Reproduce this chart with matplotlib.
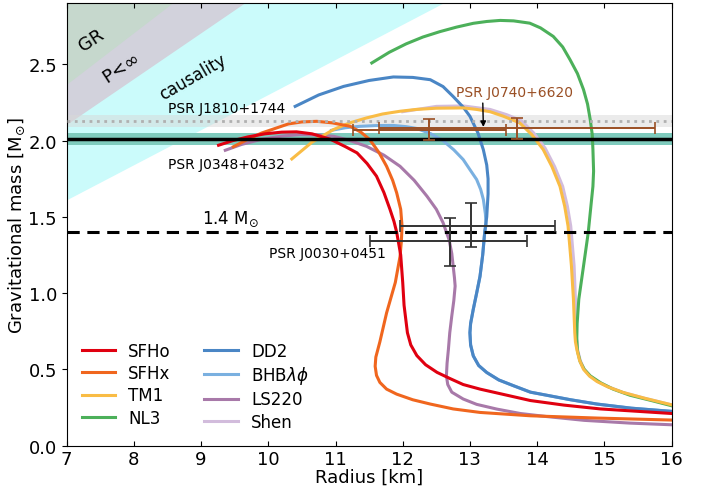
import numpy as np
import matplotlib.pyplot as plt

# mass-radius curves (R in km, M in Msun)
sfho_r = [9.26, 9.47, 9.7, 9.95, 10.2, 10.42, 10.65, 10.92, 11.15, 11.32, 11.47, 11.61, 11.72, 11.81, 11.87, 11.91, 11.97, 12.0, 12.02, 12.07, 12.12, 12.21, 12.34, 12.51, 12.7, 12.90, 13.15, 13.40, 13.90, 14.4, 14.94, 16.0]
sfho_m = [1.97, 2.00, 2.025, 2.045, 2.056, 2.058, 2.045, 2.01, 1.96, 1.92, 1.85, 1.767, 1.66, 1.55, 1.47, 1.40, 1.25, 1.07, 0.92, 0.74, 0.66, 0.59, 0.53, 0.48, 0.44, 0.40, 0.37, 0.345, 0.295, 0.265, 0.24, 0.21]

sfhx_r = [9.48, 9.7, 9.9, 10.1, 10.3, 10.5, 10.72, 10.95, 11.22, 11.38, 11.51, 11.65, 11.76, 11.85, 11.91, 11.97, 11.99, 11.98, 11.96, 11.89, 11.76, 11.66, 11.60, 11.59, 11.61, 11.66, 11.76, 11.91, 12.15, 12.41, 12.75, 13.15, 13.90, 14.9, 16.0]
sfhx_m = [1.96, 2.01, 2.05, 2.08, 2.11, 2.123, 2.127, 2.117, 2.094, 2.055, 2.007, 1.92, 1.832, 1.74, 1.658, 1.55, 1.44, 1.34, 1.24, 1.07, 0.87, 0.68, 0.58, 0.52, 0.46, 0.414, 0.37, 0.337, 0.30, 0.272, 0.24, 0.217, 0.195, 0.18, 0.167]

tm1_r = [10.35, 10.65, 10.97, 11.2, 11.46, 11.7, 11.96, 12.2, 12.5, 12.9, 13.1, 13.3, 13.5, 13.74, 13.92, 14.09, 14.22, 14.34, 14.41, 14.46, 14.51, 14.54, 14.56, 14.57, 14.59, 14.63, 14.69, 14.78, 14.89, 15.05, 15.28, 15.6, 16.0]
tm1_m = [1.88, 1.99, 2.073, 2.115, 2.149, 2.175, 2.193, 2.205, 2.213, 2.215, 2.205, 2.19, 2.16, 2.117, 2.04, 1.942, 1.83, 1.70, 1.57, 1.44, 1.18, 0.96, 0.74, 0.68, 0.632, 0.56, 0.50, 0.455, 0.42, 0.385, 0.348, 0.31, 0.267]

nl3_r = [11.54, 11.8, 12.05, 12.3, 12.55, 12.8, 13.05, 13.25, 13.45, 13.65, 13.89, 14.05, 14.24, 14.38, 14.49, 14.6, 14.69, 14.75, 14.79, 14.82, 14.83, 14.84, 14.83, 14.81, 14.76, 14.69, 14.62, 14.595, 14.59, 14.6, 14.64, 14.70, 14.79, 14.95, 15.13, 15.38, 15.7, 16.0]
nl3_m = [2.51, 2.58, 2.635, 2.68, 2.715, 2.745, 2.77, 2.782, 2.789, 2.786, 2.771, 2.74, 2.684, 2.615, 2.531, 2.44, 2.335, 2.24, 2.138, 2.04, 1.942, 1.80, 1.70, 1.614, 1.396, 1.177, 0.96, 0.80, 0.70, 0.62, 0.55, 0.50, 0.457, 0.41, 0.37, 0.33, 0.295, 0.261]

dd2_r = [10.40, 10.75, 11.12, 11.5, 11.86, 12.15, 12.41, 12.6, 12.75, 12.9, 13.0, 13.12, 13.2, 13.25, 13.27, 13.27, 13.25, 13.22, 13.19, 13.15, 13.1, 13.05, 13.01, 13.0, 13.01, 13.05, 13.13, 13.25, 13.43, 13.65, 13.90, 14.14, 14.5, 14.89, 15.4, 16.0]
dd2_m = [2.225, 2.30, 2.356, 2.395, 2.418, 2.415, 2.40, 2.355, 2.29, 2.22, 2.16, 2.05, 1.94, 1.84, 1.75, 1.65, 1.50, 1.40, 1.25, 1.11, 1.0, 0.894, 0.80, 0.74, 0.66, 0.588, 0.525, 0.479, 0.43, 0.392, 0.35, 0.33, 0.30, 0.272, 0.245, 0.224]

bhb_r = [10.94, 11.15, 11.36, 11.6, 11.86, 12.05, 12.21, 12.42, 12.60, 12.76, 12.90, 13.0, 13.10, 13.16, 13.2, 13.23, 13.24, 13.22, 13.19, 13.15, 13.1, 13.05, 13.01, 13.0, 13.01, 13.05, 13.13, 13.25, 13.43, 13.65, 13.90, 14.14, 14.5, 14.89, 15.4, 16.0]
bhb_m = [2.068, 2.085, 2.094, 2.099, 2.10, 2.092, 2.08, 2.045, 2.0, 1.94, 1.876, 1.81, 1.745, 1.68, 1.614, 1.52, 1.45, 1.40, 1.25, 1.11, 1.0, 0.894, 0.80, 0.74, 0.66, 0.588, 0.525, 0.479, 0.43, 0.392, 0.35, 0.33, 0.30, 0.272, 0.245, 0.224]

ls220_r = [9.36, 9.6, 9.88, 10.2, 10.47, 10.72, 10.97, 11.2, 11.46, 11.72, 11.96, 12.17, 12.36, 12.50, 12.60, 12.69, 12.73, 12.75, 12.77, 12.78, 12.76, 12.73, 12.70, 12.68, 12.66, 12.65, 12.67, 12.73, 12.90, 13.1, 13.40, 13.75, 14.14, 14.7, 15.38, 16.0]
ls220_m = [1.937, 1.975, 2.007, 2.03, 2.04, 2.038, 2.029, 2.003, 1.963, 1.905, 1.832, 1.74, 1.636, 1.55, 1.462, 1.35, 1.26, 1.18, 1.10, 1.046, 0.95, 0.85, 0.74, 0.632, 0.54, 0.457, 0.40, 0.35, 0.305, 0.27, 0.239, 0.21, 0.19, 0.165, 0.147, 0.136]

shen_r = [12.0, 12.5, 12.9, 13.3, 13.55, 13.77, 13.95, 14.12, 14.26, 14.38, 14.45, 14.50, 14.55, 14.57, 14.58, 14.60, 14.64, 14.70, 14.79, 14.90, 15.06, 15.28, 15.6, 16.0]
shen_m = [2.19, 2.225, 2.228, 2.205, 2.17, 2.13, 2.05, 1.95, 1.83, 1.70, 1.57, 1.44, 1.18, 0.96, 0.74, 0.632, 0.56, 0.50, 0.455, 0.42, 0.385, 0.348, 0.31, 0.267]

eos_names = ['SFHo', 'SFHx', 'TM1', 'NL3', 'DD2', 'BHB$\\lambda\\phi$', 'LS220', 'Shen']
eos_colors = ['#e00010', '#f0661e', '#f9bc45', '#4cb05a', '#4a86c5', '#7ab0e0', '#a879a9', '#d2bcdc']
eos_r = [sfho_r, sfhx_r, tm1_r, nl3_r, dd2_r, bhb_r, ls220_r, shen_r]
eos_m = [sfho_m, sfhx_m, tm1_m, nl3_m, dd2_m, bhb_m, ls220_m, shen_m]

# limits: R = k * G M / c^2
gm_sun = 1.4766
k_gr, k_buchdahl, k_causal = 2.0, 9.0 / 4.0, 2.94

# pulsar masses
m_j1810, dm_j1810 = 2.13, 0.04
m_j0348, dm_j0348 = 2.01, 0.04
m_canon = 1.4

# NICER J0030+0451 (Riley, Miller)
j0030_r = [12.71, 13.02]
j0030_rerr = [[1.19, 1.06], [1.14, 1.24]]
j0030_m = [1.34, 1.44]
j0030_merr = [[0.16, 0.14], [0.15, 0.15]]

# J0740+6620 (Riley, Miller)
j0740_r = [12.39, 13.70]
j0740_rerr = [[1.13, 2.05], [1.15, 2.05]]
j0740_m = [2.072, 2.08]
j0740_merr = [[0.066, 0.07], [0.067, 0.07]]

fig = plt.figure(figsize=(7.01, 4.89), dpi=100)
ax = fig.add_axes([0.0951, 0.0869, 0.958 - 0.0951, 0.9908 - 0.0869])

rr = np.array([7.0, 16.0])
ax.fill_between(rr, rr / (k_causal * gm_sun), 3.0, color='#cbfbfb', lw=0, zorder=0)
ax.fill_between(rr, rr / (k_buchdahl * gm_sun), 3.0, color='#d2d2dc', lw=0, zorder=0.1)
ax.fill_between(rr, rr / (k_gr * gm_sun), 3.0, color='#c6d8cd', lw=0, zorder=0.2)

ax.axhspan(m_j1810 - dm_j1810, m_j1810 + dm_j1810, color='#d8d8d8', alpha=0.5, lw=0, zorder=0.5)
ax.axhspan(m_j0348 - dm_j0348, m_j0348 + dm_j0348, color='#7fcbbd', lw=0, zorder=0.5)

# plot in reverse so first entries sit on top
lines = []
for i in range(len(eos_names) - 1, -1, -1):
    ln, = ax.plot(eos_r[i], eos_m[i], color=eos_colors[i], lw=2.2, label=eos_names[i],
                  zorder=2, solid_joinstyle='round')
    lines.insert(0, ln)

ax.axhline(m_j1810, color='#b0b0b0', ls=':', lw=2, zorder=4)
ax.axhline(m_j0348, color='k', lw=2.5, zorder=4)
ax.axhline(m_canon, color='k', ls=(0, (4, 2.5)), lw=2.2, zorder=4)

ax.errorbar(j0030_r, j0030_m, xerr=np.array(j0030_rerr), yerr=np.array(j0030_merr),
            fmt='none', ecolor='#333333', elinewidth=1.4, capsize=4, capthick=1.2, zorder=6)
ax.errorbar(j0740_r, j0740_m, xerr=np.array(j0740_rerr), yerr=np.array(j0740_merr),
            fmt='none', ecolor='#9a4f24', elinewidth=1.4, capsize=4, capthick=1.2, zorder=6)

ax.text(8.51, 2.217, 'PSR J1810+1744', fontsize=10, va='center', zorder=7)
ax.text(8.51, 1.848, 'PSR J0348+0432', fontsize=10, va='center', zorder=7)
ax.text(10.01, 1.261, 'PSR J0030+0451', fontsize=10, va='center', zorder=7)
ax.text(9.02, 1.488, '1.4 M$_{\\odot}$', fontsize=12, va='center', zorder=7)
ax.annotate('PSR J0740+6620', xy=(13.2, 2.09), xytext=(13.66, 2.32), fontsize=10,
            color='#9a4f24', ha='center', va='center', zorder=7,
            arrowprops=dict(arrowstyle='-|>', color='k', lw=1, mutation_scale=8,
                            relpos=(0.23, 0.0), shrinkA=1, shrinkB=0))

ax.text(7.37, 2.662, 'GR', fontsize=13, rotation=33, ha='center', va='center')
ax.text(7.82, 2.477, 'P<$\\infty$', fontsize=13, rotation=33, ha='center', va='center')
ax.text(8.88, 2.42, 'causality', fontsize=12, rotation=30, ha='center', va='center')

ax.set_xlim(7, 16)
ax.set_ylim(0, 2.9)
ax.set_xticks(np.arange(7, 17, 1))
ax.set_yticks(np.arange(0, 2.51, 0.5))
ax.tick_params(axis='x', direction='in', top=True, labelsize=13, pad=3)
ax.tick_params(axis='y', labelsize=13)
ax.set_xlabel('Radius [km]', fontsize=13, labelpad=0)
ax.set_ylabel('Gravitational mass [M$_{\\odot}$]', fontsize=13, labelpad=1)

ax.legend(handles=lines, loc='lower left', ncol=2, frameon=False, fontsize=12,
          labelspacing=0.25, handlelength=2.0)

plt.savefig('out.png', dpi=100)
